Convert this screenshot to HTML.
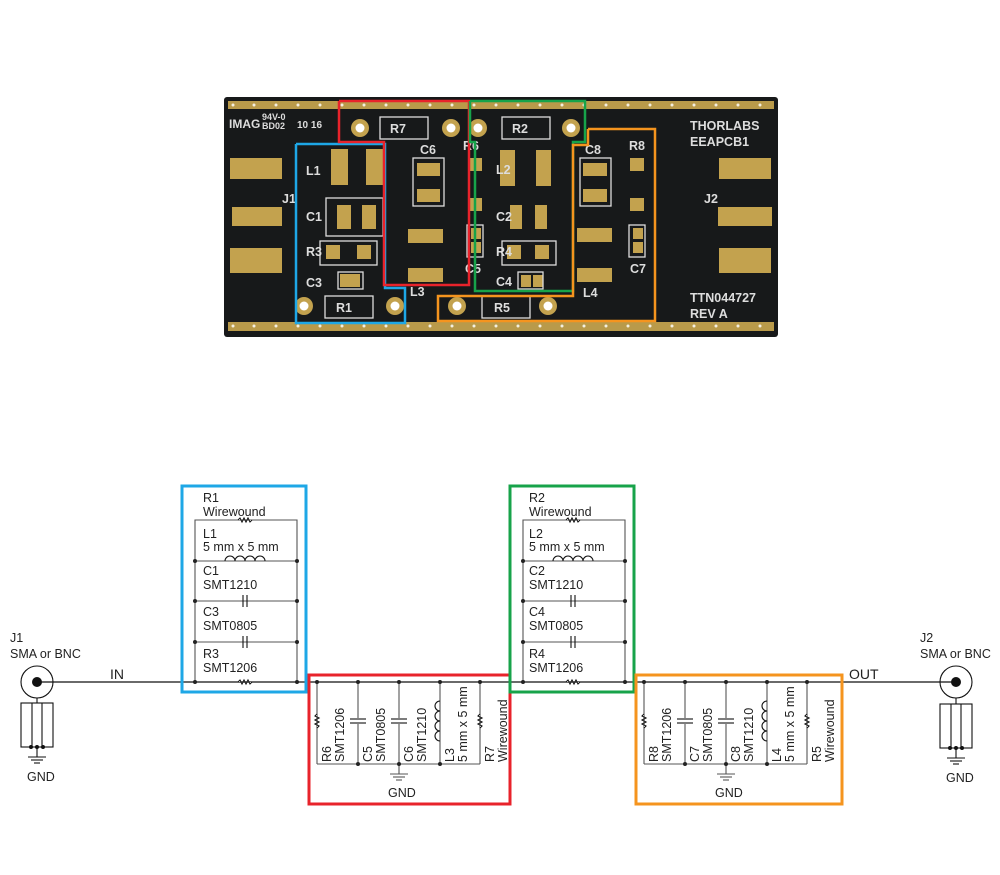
<!DOCTYPE html>
<html><head><meta charset="utf-8"><style>
html,body{margin:0;padding:0;background:#fff;}
svg{display:block;}
text{font-family:"Liberation Sans",sans-serif;font-size:12.5px;fill:#222;}
</style></head><body>
<svg width="1000" height="875" viewBox="0 0 1000 875" xmlns="http://www.w3.org/2000/svg">
<!-- PCB -->
<rect x="224" y="97" width="554" height="240" rx="3" fill="#17191a"/>
<rect x="228" y="101" width="546" height="8" fill="#b99a4a"/>
<rect x="228" y="322" width="546" height="9" fill="#b99a4a"/>
<g fill="#f4efe0">
<circle cx="233" cy="105" r="1.5"/><circle cx="254" cy="105" r="1.5"/><circle cx="276" cy="105" r="1.5"/><circle cx="298" cy="105" r="1.5"/><circle cx="320" cy="105" r="1.5"/><circle cx="342" cy="105" r="1.5"/><circle cx="364" cy="105" r="1.5"/><circle cx="386" cy="105" r="1.5"/><circle cx="408" cy="105" r="1.5"/><circle cx="430" cy="105" r="1.5"/><circle cx="452" cy="105" r="1.5"/><circle cx="474" cy="105" r="1.5"/><circle cx="496" cy="105" r="1.5"/><circle cx="518" cy="105" r="1.5"/><circle cx="540" cy="105" r="1.5"/><circle cx="562" cy="105" r="1.5"/><circle cx="584" cy="105" r="1.5"/><circle cx="606" cy="105" r="1.5"/><circle cx="628" cy="105" r="1.5"/><circle cx="650" cy="105" r="1.5"/><circle cx="672" cy="105" r="1.5"/><circle cx="694" cy="105" r="1.5"/><circle cx="716" cy="105" r="1.5"/><circle cx="738" cy="105" r="1.5"/><circle cx="760" cy="105" r="1.5"/>
<circle cx="233" cy="326" r="1.5"/><circle cx="254" cy="326" r="1.5"/><circle cx="276" cy="326" r="1.5"/><circle cx="298" cy="326" r="1.5"/><circle cx="320" cy="326" r="1.5"/><circle cx="342" cy="326" r="1.5"/><circle cx="364" cy="326" r="1.5"/><circle cx="386" cy="326" r="1.5"/><circle cx="408" cy="326" r="1.5"/><circle cx="430" cy="326" r="1.5"/><circle cx="452" cy="326" r="1.5"/><circle cx="474" cy="326" r="1.5"/><circle cx="496" cy="326" r="1.5"/><circle cx="518" cy="326" r="1.5"/><circle cx="540" cy="326" r="1.5"/><circle cx="562" cy="326" r="1.5"/><circle cx="584" cy="326" r="1.5"/><circle cx="606" cy="326" r="1.5"/><circle cx="628" cy="326" r="1.5"/><circle cx="650" cy="326" r="1.5"/><circle cx="672" cy="326" r="1.5"/><circle cx="694" cy="326" r="1.5"/><circle cx="716" cy="326" r="1.5"/><circle cx="738" cy="326" r="1.5"/><circle cx="760" cy="326" r="1.5"/>
</g>
<g fill="#c3a24e">
<rect x="230" y="158" width="52" height="21"/><rect x="232" y="207" width="50" height="19"/><rect x="230" y="248" width="52" height="25"/>
<rect x="719" y="158" width="52" height="21"/><rect x="718" y="207" width="54" height="19"/><rect x="719" y="248" width="52" height="25"/>
<rect x="331" y="149" width="17" height="36"/><rect x="366" y="149" width="17" height="36"/>
<rect x="337" y="205" width="14" height="24"/><rect x="362" y="205" width="14" height="24"/>
<rect x="326" y="245" width="14" height="14"/><rect x="357" y="245" width="14" height="14"/>
<rect x="340" y="274" width="10" height="13"/><rect x="350" y="274" width="10" height="13"/>
<rect x="417" y="163" width="23" height="13"/><rect x="417" y="189" width="23" height="13"/>
<rect x="408" y="229" width="35" height="14"/><rect x="408" y="268" width="35" height="14"/>
<rect x="468" y="158" width="14" height="13"/><rect x="468" y="198" width="14" height="13"/>
<rect x="471" y="228" width="10" height="11"/><rect x="471" y="242" width="10" height="11"/>
<rect x="500" y="150" width="15" height="36"/><rect x="536" y="150" width="15" height="36"/>
<rect x="510" y="205" width="12" height="24"/><rect x="535" y="205" width="12" height="24"/>
<rect x="507" y="245" width="14" height="14"/><rect x="535" y="245" width="14" height="14"/>
<rect x="521" y="275" width="10" height="12"/><rect x="533" y="275" width="10" height="12"/>
<rect x="583" y="163" width="24" height="13"/><rect x="583" y="189" width="24" height="13"/>
<rect x="577" y="228" width="35" height="14"/><rect x="577" y="268" width="35" height="14"/>
<rect x="630" y="158" width="14" height="13"/><rect x="630" y="198" width="14" height="13"/>
<rect x="633" y="228" width="10" height="11"/><rect x="633" y="242" width="10" height="11"/>
</g>
<g fill="#c3a24e"><circle cx="360" cy="128" r="9"/><circle cx="451" cy="128" r="9"/><circle cx="478" cy="128" r="9"/><circle cx="571" cy="128" r="9"/><circle cx="304" cy="306" r="9"/><circle cx="395" cy="306" r="9"/><circle cx="457" cy="306" r="9"/><circle cx="548" cy="306" r="9"/></g>
<g fill="#fff"><circle cx="360" cy="128" r="4.5"/><circle cx="451" cy="128" r="4.5"/><circle cx="478" cy="128" r="4.5"/><circle cx="571" cy="128" r="4.5"/><circle cx="304" cy="306" r="4.5"/><circle cx="395" cy="306" r="4.5"/><circle cx="457" cy="306" r="4.5"/><circle cx="548" cy="306" r="4.5"/></g>
<g fill="none" stroke="#ddd" stroke-width="1.3">
<rect x="380" y="117" width="48" height="22"/><rect x="502" y="117" width="48" height="22"/><rect x="325" y="296" width="48" height="22"/><rect x="482" y="296" width="48" height="22"/>
<rect x="326" y="198" width="57" height="38"/><rect x="320" y="241" width="57" height="24"/><rect x="338" y="272" width="25" height="17"/>
<rect x="413" y="158" width="31" height="48"/><rect x="580" y="158" width="31" height="48"/><rect x="467" y="225" width="16" height="32"/><rect x="629" y="225" width="16" height="32"/>
<rect x="502" y="241" width="54" height="24"/><rect x="518" y="272" width="25" height="17"/>
</g>
<g font-weight="bold">
<text x="229" y="128" style="fill:#ddd;font-size:12px">IMAG</text><text x="262" y="120" style="fill:#ddd;font-size:9px">94V-0</text><text x="262" y="129" style="fill:#ddd;font-size:9px">BD02</text><text x="297" y="128" style="fill:#ddd;font-size:10px">10 16</text>
<text x="390" y="133" style="fill:#ddd">R7</text><text x="512" y="133" style="fill:#ddd">R2</text><text x="336" y="312" style="fill:#ddd">R1</text><text x="494" y="312" style="fill:#ddd">R5</text>
<text x="306" y="175" style="fill:#ddd">L1</text><text x="306" y="221" style="fill:#ddd">C1</text><text x="306" y="256" style="fill:#ddd">R3</text><text x="306" y="287" style="fill:#ddd">C3</text>
<text x="420" y="154" style="fill:#ddd">C6</text><text x="463" y="150" style="fill:#ddd">R6</text><text x="465" y="273" style="fill:#ddd">C5</text><text x="410" y="296" style="fill:#ddd">L3</text>
<text x="496" y="174" style="fill:#ddd">L2</text><text x="496" y="221" style="fill:#ddd">C2</text><text x="496" y="256" style="fill:#ddd">R4</text><text x="496" y="286" style="fill:#ddd">C4</text>
<text x="585" y="154" style="fill:#ddd">C8</text><text x="629" y="150" style="fill:#ddd">R8</text><text x="630" y="273" style="fill:#ddd">C7</text><text x="583" y="297" style="fill:#ddd">L4</text>
<text x="704" y="203" style="fill:#ddd">J2</text><text x="282" y="203" style="fill:#ddd">J1</text>
<text x="690" y="130" style="fill:#ddd">THORLABS</text><text x="690" y="146" style="fill:#ddd">EEAPCB1</text>
<text x="690" y="302" style="fill:#ddd">TTN044727</text><text x="690" y="318" style="fill:#ddd">REV A</text>
</g>
<g fill="none" stroke-width="2.5">
<polyline stroke="#1ea7e6" points="296,144 385,144 385,288 405,288 405,323 296,323 296,144"/>
<polyline stroke="#e8232b" points="339,101 469,101 469,285 384,285 384,142 339,142 339,101"/>
<polyline stroke="#17a34a" points="470,101 585,101 585,142 573,142 573,291 475,291 475,142 470,142 470,101"/>
<polyline stroke="#f5941e" points="588,129 655,129 655,321 438,321 438,296 573,296 573,145 588,145 588,129"/>
</g>

<!-- Schematic -->
<g stroke="#111" stroke-width="1.2" fill="none">
<line x1="37" y1="682" x2="956" y2="682"/>
</g>
<!-- J1 -->
<g stroke="#111" stroke-width="1.1" fill="none">
<circle cx="37" cy="682" r="16"/>
<line x1="37" y1="698" x2="37" y2="703"/>
<rect x="21" y="703" width="32" height="44"/><line x1="32" y1="703" x2="32" y2="747"/><line x1="42" y1="703" x2="42" y2="747"/>
<line x1="37" y1="747" x2="37" y2="757"/><line x1="28" y1="757" x2="46" y2="757"/><line x1="31" y1="760" x2="43" y2="760"/><line x1="34" y1="763" x2="40" y2="763"/>
<circle cx="956" cy="682" r="16"/>
<line x1="956" y1="698" x2="956" y2="704"/>
<rect x="940" y="704" width="32" height="44"/><line x1="951" y1="704" x2="951" y2="748"/><line x1="961" y1="704" x2="961" y2="748"/>
<line x1="956" y1="748" x2="956" y2="758"/><line x1="947" y1="758" x2="965" y2="758"/><line x1="950" y1="761" x2="962" y2="761"/><line x1="953" y1="764" x2="959" y2="764"/>
</g>
<g fill="#111"><circle cx="37" cy="682" r="5"/><circle cx="956" cy="682" r="5"/>
<circle cx="31" cy="747" r="2"/><circle cx="37" cy="747" r="2"/><circle cx="43" cy="747" r="2"/>
<circle cx="950" cy="748" r="2"/><circle cx="956" cy="748" r="2"/><circle cx="962" cy="748" r="2"/></g>
<text x="10" y="642">J1</text><text x="10" y="658">SMA or BNC</text>
<text x="110" y="679" style="font-size:14px">IN</text>
<text x="920" y="642">J2</text><text x="920" y="658">SMA or BNC</text>
<text x="849" y="679" style="font-size:14px">OUT</text>
<text x="27" y="781">GND</text><text x="946" y="782">GND</text>

<!-- series blocks -->
<g id="blk">
<g stroke="#555" stroke-width="1.1" fill="none">
<polyline points="195,682 195,520 297,520 297,682"/>
<line x1="195" y1="561" x2="297" y2="561"/><line x1="195" y1="601" x2="297" y2="601"/><line x1="195" y1="642" x2="297" y2="642"/>
<polyline stroke="#111" points="238,520 240,518 242,522 244,518 246,522 248,518 250,522 252,520" fill="#fff"/>
<polyline stroke="#111" points="238,682 240,680 242,684 244,680 246,684 248,680 250,684 252,682" fill="#fff"/>
<path stroke="#111" d="M225,561 a5,5 0 0 1 10,0 a5,5 0 0 1 10,0 a5,5 0 0 1 10,0 a5,5 0 0 1 10,0"/>
<line stroke="#111" x1="243" y1="595" x2="243" y2="607"/><line stroke="#111" x1="247" y1="595" x2="247" y2="607"/>
<line stroke="#111" x1="243" y1="636" x2="243" y2="648"/><line stroke="#111" x1="247" y1="636" x2="247" y2="648"/>
</g>
<g fill="#222"><circle cx="195" cy="561" r="2"/><circle cx="297" cy="561" r="2"/><circle cx="195" cy="601" r="2"/><circle cx="297" cy="601" r="2"/><circle cx="195" cy="642" r="2"/><circle cx="297" cy="642" r="2"/><circle cx="195" cy="682" r="2"/><circle cx="297" cy="682" r="2"/></g>
</g>
<use href="#blk" x="328" y="0"/>
<text x="203" y="502">R1</text><text x="203" y="516">Wirewound</text>
<text x="203" y="538">L1</text><text x="203" y="551">5 mm x 5 mm</text>
<text x="203" y="575">C1</text><text x="203" y="589">SMT1210</text>
<text x="203" y="616">C3</text><text x="203" y="630">SMT0805</text>
<text x="203" y="658">R3</text><text x="203" y="672">SMT1206</text>
<text x="529" y="502">R2</text><text x="529" y="516">Wirewound</text>
<text x="529" y="538">L2</text><text x="529" y="551">5 mm x 5 mm</text>
<text x="529" y="575">C2</text><text x="529" y="589">SMT1210</text>
<text x="529" y="616">C4</text><text x="529" y="630">SMT0805</text>
<text x="529" y="658">R4</text><text x="529" y="672">SMT1206</text>

<!-- shunt blocks -->
<g id="sh">
<g stroke="#555" stroke-width="1.1" fill="none">
<line x1="317" y1="682" x2="317" y2="764"/><line x1="358" y1="682" x2="358" y2="764"/><line x1="399" y1="682" x2="399" y2="764"/><line x1="440" y1="682" x2="440" y2="764"/><line x1="480" y1="682" x2="480" y2="764"/>
<line x1="317" y1="764" x2="480" y2="764"/>
<line x1="399" y1="764" x2="399" y2="774"/>
<line x1="390" y1="774" x2="408" y2="774"/><line x1="393" y1="777" x2="405" y2="777"/><line x1="396" y1="780" x2="402" y2="780"/>
</g>
<g stroke="#111" stroke-width="1.1" fill="#fff">
<polyline points="317,714 315,716 319,718 315,720 319,722 315,724 319,726 317,728"/>
<polyline points="480,714 478,716 482,718 478,720 482,722 478,724 482,726 480,728"/>
<rect x="349" y="718" width="18" height="6" stroke="none"/><line x1="350" y1="719" x2="366" y2="719"/><line x1="350" y1="723" x2="366" y2="723"/>
<rect x="390" y="718" width="18" height="6" stroke="none"/><line x1="391" y1="719" x2="407" y2="719"/><line x1="391" y1="723" x2="407" y2="723"/>
<path fill="none" d="M440,701 a5,5 0 0 0 0,10 a5,5 0 0 0 0,10 a5,5 0 0 0 0,10 a5,5 0 0 0 0,10"/>
</g>
<g fill="#222"><circle cx="317" cy="682" r="2"/><circle cx="358" cy="682" r="2"/><circle cx="399" cy="682" r="2"/><circle cx="440" cy="682" r="2"/><circle cx="480" cy="682" r="2"/><circle cx="358" cy="764" r="2"/><circle cx="399" cy="764" r="2"/><circle cx="440" cy="764" r="2"/></g>
</g>
<use href="#sh" x="327" y="0"/>
<g transform="rotate(-90)">
<text x="-762" y="331">R6</text><text x="-762" y="344">SMT1206</text>
<text x="-762" y="372">C5</text><text x="-762" y="385">SMT0805</text>
<text x="-762" y="413">C6</text><text x="-762" y="426">SMT1210</text>
<text x="-762" y="454">L3</text><text x="-762" y="467">5 mm x 5 mm</text>
<text x="-762" y="494">R7</text><text x="-762" y="507">Wirewound</text>
<text x="-762" y="658">R8</text><text x="-762" y="671">SMT1206</text>
<text x="-762" y="699">C7</text><text x="-762" y="712">SMT0805</text>
<text x="-762" y="740">C8</text><text x="-762" y="753">SMT1210</text>
<text x="-762" y="781">L4</text><text x="-762" y="794">5 mm x 5 mm</text>
<text x="-762" y="821">R5</text><text x="-762" y="834">Wirewound</text>
</g>
<text x="388" y="797">GND</text><text x="715" y="797">GND</text>

<g fill="none" stroke-width="3">
<rect x="182" y="486" width="124" height="206" stroke="#1ea7e6"/>
<rect x="309" y="675" width="201" height="129" stroke="#e8232b"/>
<rect x="510" y="486" width="124" height="206" stroke="#17a34a"/>
<rect x="636" y="675" width="206" height="129" stroke="#f5941e"/>
</g>
</svg>
</body></html>
